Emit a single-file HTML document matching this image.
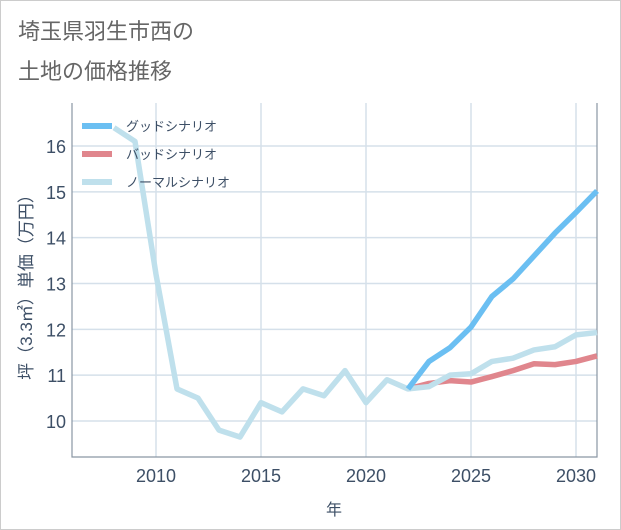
<!DOCTYPE html>
<html><head><meta charset="utf-8"><style>
body{margin:0;background:#fff;}
#wrap{position:relative;width:619px;height:528px;border:1px solid #ccc;background:#fff;font-family:"Liberation Sans","Noto Sans CJK JP",sans-serif;}
.title{position:absolute;left:17px;font-size:22px;color:#666;line-height:1;}
</style></head><body>
<div id="wrap">
<div class="title" style="top:20px">埼玉県羽生市西の</div>
<div class="title" style="top:60px">土地の価格推移</div>
<svg id="chart" width="621" height="530" style="position:absolute;left:-1px;top:-1px"></svg>
</div>
<script>
const normalYears=[2008,2009,2010,2011,2012,2013,2014,2015,2016,2017,2018,2019,2020,2021,2022,2023,2024,2025,2026,2027,2028,2029,2030,2031];
const normalVals=[16.4,16.1,13.2,10.7,10.5,9.8,9.65,10.4,10.2,10.7,10.55,11.1,10.4,10.9,10.7,10.75,11.0,11.03,11.3,11.37,11.55,11.62,11.88,11.93];
const futureYears=[2022,2023,2024,2025,2026,2027,2028,2029,2030,2031];
const goodVals=[10.7,11.3,11.6,12.05,12.72,13.1,13.6,14.1,14.55,15.02];
const badVals=[10.7,10.82,10.88,10.85,10.97,11.1,11.25,11.23,11.3,11.42];
const xTicks=[2010,2015,2020,2025,2030];
const yTicks=[10,11,12,13,14,15,16];
const legendLabels=["グッドシナリオ","バッドシナリオ","ノーマルシナリオ"];

const L=72,R=597,T=103,B=457;
const x=v=>156+(v-2010)*21;
const y=v=>421-(v-10)*45.83;
const svg=document.getElementById('chart');
const NS='http://www.w3.org/2000/svg';
function mk(t,a){const e=document.createElementNS(NS,t);for(const k in a)e.setAttribute(k,a[k]);svg.appendChild(e);return e;}
yTicks.forEach(v=>{
 const g=mk('line',{x1:L,x2:R,y1:y(v),y2:y(v),stroke:'#d5e0ea','stroke-width':1.5});
 
 
 const t=mk('text',{x:L-6,y:y(v)+7,'text-anchor':'end','font-size':18,fill:'#3d4f66'});
 t.textContent=v;
 
 
});
xTicks.forEach(v=>{
 const g=mk('line',{x1:x(v),x2:x(v),y1:T,y2:B,stroke:'#d5e0ea','stroke-width':1.5});
 
 
 const t=mk('text',{x:x(v),y:B+25,'text-anchor':'middle','font-size':18,fill:'#3d4f66'});
 t.textContent=v;
 
 
});
const ax=mk('path',{d:`M${L},${T}V${B}H${R}V${T}`,fill:'none',stroke:'#8a96a3','stroke-width':1.2});


function line(xs,vs,c,n){
 const p=mk('polyline',{points:xs.map((v,i)=>x(v)+','+y(vs[i])).join(' '),fill:'none',stroke:c,'stroke-width':5.5,'stroke-linejoin':'round'});
 
 
}
line(futureYears,badVals,'#e0868d','bad-scenario-line');
line(normalYears,normalVals,'#bfe0ec','normal-scenario-line');
line(futureYears,goodVals,'#6bbff2','good-scenario-line');
// redraw normal future on top of bad only (keep good on top)
const cols=['#6bbff2','#e0868d','#bfe0ec'];
legendLabels.forEach((s,i)=>{
 const ly=126+i*28;
 const r=mk('rect',{x:82,y:ly-3,width:30,height:6,fill:cols[i]});
 
 
 const t=mk('text',{x:126,y:ly+5,'font-size':13,fill:'#3d4f66'});
 t.textContent=s;
 
 
});
const xt=mk('text',{x:334,y:515,'text-anchor':'middle','font-size':16,fill:'#3d4f66'});
xt.textContent='年';


const yt=mk('text',{x:0,y:0,'text-anchor':'middle','font-size':17,fill:'#3d4f66',transform:'translate(32,283) rotate(-90)'});
yt.textContent='坪（3.3㎡）単価（万円）';


</script>
</body></html>
